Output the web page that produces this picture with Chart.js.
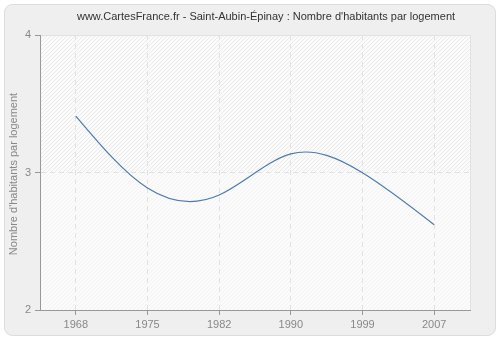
<!DOCTYPE html>
<html>
<head>
<meta charset="utf-8">
<script src="https://cdn.jsdelivr.net/npm/chart.js@4.4.0/dist/chart.umd.min.js"></script>
<style>
  html, body { margin: 0; padding: 0; background: #fff; }
  #wrap { width: 500px; height: 340px; }
</style>
</head>
<body>
<div id="wrap"><canvas id="chart" width="500" height="340"></canvas></div>
<script>
// ===== Données =====
const annees = ['1968', '1975', '1982', '1990', '1999', '2007'];
const habParLogement = [3.41, 2.887, 2.836, 3.135, 2.998, 2.62];
const yTicks = [2, 3, 4];

const titre = "www.CartesFrance.fr - Saint-Aubin-Épinay : Nombre d'habitants par logement";
const titreAxeY = "Nombre d'habitants par logement";
const police = "'Liberation Sans', Arial, sans-serif";

// ===== Fond : panneau arrondi, zone hachurée, titres =====
const fondPlugin = {
  id: 'fond',
  beforeDraw(chart) {
    const ctx = chart.ctx;
    const a = chart.chartArea;
    ctx.save();

    // panneau gris arrondi
    ctx.fillStyle = '#ffffff';
    ctx.fillRect(0, 0, chart.width, chart.height);
    ctx.beginPath();
    ctx.roundRect(4.5, 4.5, 491, 331, 8);
    ctx.fillStyle = '#efefef';
    ctx.fill();
    ctx.strokeStyle = '#dcdcdc';
    ctx.lineWidth = 1;
    ctx.stroke();

    // zone du graphique
    ctx.fillStyle = '#fbfbfb';
    ctx.fillRect(a.left, a.top, a.right - a.left, a.bottom - a.top);

    // hachures diagonales
    const y3 = chart.scales.y.getPixelForValue(3);
    ctx.save();
    ctx.beginPath();
    ctx.rect(a.left, a.top, a.right - a.left, a.bottom - a.top);
    ctx.clip();
    ctx.lineWidth = 1;
    const h = a.bottom - a.top;
    ctx.strokeStyle = '#eaeaea';
    for (let x = a.left - h; x < a.right + 4; x += 4) {
      ctx.beginPath();
      ctx.moveTo(x, a.bottom);
      ctx.lineTo(x + h, a.top);
      ctx.stroke();
    }
    // moitié basse un peu plus claire
    ctx.fillStyle = 'rgba(251,251,251,0.5)';
    ctx.fillRect(a.left, y3, a.right - a.left, a.bottom - y3);
    ctx.restore();

    // bordures haute et droite
    ctx.strokeStyle = '#e2e2e2';
    ctx.beginPath();
    ctx.moveTo(a.left, a.top + 0.5);
    ctx.lineTo(a.right + 0.5, a.top + 0.5);
    ctx.lineTo(a.right + 0.5, a.bottom);
    ctx.stroke();

    // titre
    ctx.fillStyle = '#333333';
    ctx.font = '11px ' + police;
    ctx.textAlign = 'center';
    ctx.textBaseline = 'middle';
    ctx.fillText(titre, 266, 17);

    // titre de l'axe Y
    ctx.fillStyle = '#888888';
    ctx.font = '11px ' + police;
    ctx.translate(14, 174);
    ctx.rotate(-Math.PI / 2);
    ctx.fillText(titreAxeY, 0, 0);
    ctx.restore();
  }
};

// ===== Courbe : spline cubique naturelle passant par les points du jeu de données =====
const splinePlugin = {
  id: 'spline',
  afterDatasetsDraw(chart) {
    const pts = chart.getDatasetMeta(0).data.map(p => ({ x: p.x, y: p.y }));
    const n = pts.length;
    if (n < 2) return;
    const h = [];
    for (let i = 0; i < n - 1; i++) h.push(pts[i + 1].x - pts[i].x);

    // dérivées secondes (extrémités naturelles)
    const M = new Array(n).fill(0);
    const c = new Array(n).fill(0), d = new Array(n).fill(0);
    for (let i = 1; i < n - 1; i++) {
      const a = h[i - 1], b = 2 * (h[i - 1] + h[i]), cc = h[i];
      const r = 6 * ((pts[i + 1].y - pts[i].y) / h[i] - (pts[i].y - pts[i - 1].y) / h[i - 1]);
      const den = b - a * c[i - 1];
      c[i] = cc / den;
      d[i] = (r - a * d[i - 1]) / den;
    }
    for (let i = n - 2; i >= 1; i--) M[i] = d[i] - c[i] * M[i + 1];

    const ctx = chart.ctx;
    const a = chart.chartArea;
    ctx.save();
    ctx.beginPath();
    ctx.rect(a.left, a.top, a.right - a.left, a.bottom - a.top);
    ctx.clip();
    ctx.beginPath();
    ctx.moveTo(pts[0].x, pts[0].y);
    for (let i = 0; i < n - 1; i++) {
      const dy = (pts[i + 1].y - pts[i].y) / h[i];
      const m0 = dy - h[i] * (2 * M[i] + M[i + 1]) / 6;
      const m1 = dy + h[i] * (M[i] + 2 * M[i + 1]) / 6;
      ctx.bezierCurveTo(
        pts[i].x + h[i] / 3, pts[i].y + m0 * h[i] / 3,
        pts[i + 1].x - h[i] / 3, pts[i + 1].y - m1 * h[i] / 3,
        pts[i + 1].x, pts[i + 1].y
      );
    }
    ctx.strokeStyle = '#4f7cab';
    ctx.lineWidth = 1.2;
    ctx.stroke();
    ctx.restore();
  }
};

new Chart(document.getElementById('chart'), {
  type: 'line',
  data: {
    labels: annees,
    datasets: [{
      data: habParLogement,
      showLine: false,
      pointRadius: 0,
      borderColor: '#4f7cab'
    }]
  },
  options: {
    responsive: false,
    animation: false,
    devicePixelRatio: 1,
    layout: { padding: { left: 0, top: 35, right: 30, bottom: 0 } },
    plugins: {
      legend: { display: false },
      title: { display: false },
      tooltip: { enabled: false }
    },
    scales: {
      x: {
        type: 'category',
        offset: true,
        afterFit: s => { s.height = 30; },
        grid: {
          offset: false,
          color: '#e2e2e2',
          tickColor: '#999999',
          tickLength: 5,
          lineWidth: 1
        },
        border: { color: '#999999', width: 1, dash: [5, 4] },
        ticks: {
          color: '#888888',
          font: { family: police, size: 11 },
          padding: 3,
          maxRotation: 0
        }
      },
      y: {
        min: 2,
        max: 4,
        afterFit: s => { s.width = 40; },
        afterBuildTicks: s => { s.ticks = yTicks.map(v => ({ value: v })); },
        grid: {
          color: c => (c.tick && c.tick.value === 3) ? '#e2e2e2' : 'rgba(0,0,0,0)',
          tickColor: '#999999',
          tickLength: 5,
          lineWidth: 1
        },
        border: { color: '#999999', width: 1, dash: [5, 4] },
        ticks: {
          color: '#888888',
          font: { family: police, size: 11 },
          padding: 4
        }
      }
    }
  },
  plugins: [fondPlugin, splinePlugin]
});
</script>
</body>
</html>
